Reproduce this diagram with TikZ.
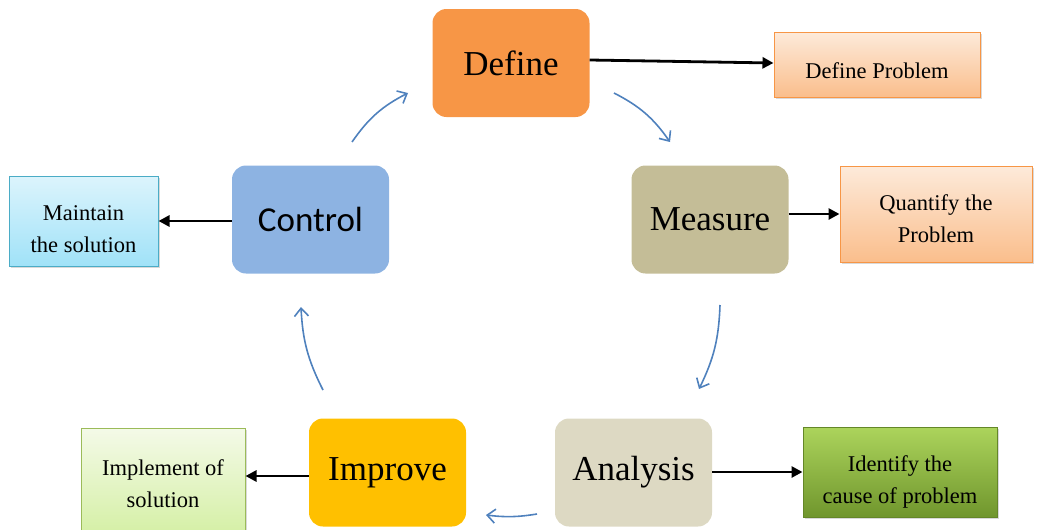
\documentclass[tikz,border=0pt]{standalone}
\usepackage{fontspec}
\setmainfont{Liberation Serif}
\newfontfamily\calib{Carlito}
\usetikzlibrary{arrows.meta,shadows}
\definecolor{defc}{RGB}{247,150,70}
\definecolor{meac}{RGB}{196,189,151}
\definecolor{anac}{RGB}{221,217,195}
\definecolor{impc}{RGB}{255,192,0}
\definecolor{conc}{RGB}{141,179,226}
\definecolor{blueline}{RGB}{79,129,189}
\definecolor{orbord}{RGB}{247,150,70}
\definecolor{ortop}{RGB}{253,234,218}
\definecolor{orbot}{RGB}{250,190,140}
\definecolor{cytop}{RGB}{220,244,252}
\definecolor{cybot}{RGB}{160,226,248}
\definecolor{cybord}{RGB}{75,172,198}
\definecolor{lgtop}{RGB}{244,250,232}
\definecolor{lgbot}{RGB}{214,240,168}
\definecolor{lgbord}{RGB}{155,187,89}
\definecolor{dgtop}{RGB}{172,212,92}
\definecolor{dgbot}{RGB}{112,150,45}
\definecolor{dgbord}{RGB}{100,135,40}
\tikzset{
  phase/.style={rounded corners=14pt, minimum width=157pt, minimum height=108pt,
    inner sep=0pt, font=\fontsize{35}{40}\selectfont},
  sidebox/.style={draw, line width=1pt, inner sep=0pt,
    drop shadow={shadow xshift=2pt, shadow yshift=-2pt, opacity=0.3}},
  sidetext/.style={inner sep=0pt, align=center, font=\fontsize{22.5}{32}\selectfont},
  blk/.style={line width=2.8pt, -{Triangle[length=11pt,width=11pt]}},
  cyc/.style={blueline, line width=1.6pt, -{Straight Barb[length=8pt,width=14pt]}}
}
\begin{document}
\begin{tikzpicture}[x=1pt,y=-1pt]
\useasboundingbox (0,0) rectangle (1045,530);
% phase boxes
\node[phase, fill=defc] (def) at (511,63) {Define};
\node[phase, fill=meac] (mea) at (710,219.5) {Measure};
\node[phase, fill=anac] (ana) at (633.5,472.5) {Analysis};
\node[phase, fill=impc] (imp) at (387.5,472.5) {Improve};
\node[phase, fill=conc, font=\calib\fontsize{35}{40}\selectfont] (con) at (310.5,219.5) {Control};
% side boxes
\node[sidebox, draw=orbord, top color=ortop, bottom color=orbot,
  minimum width=206pt, minimum height=65pt] (dp) at (877,64.5) {};
\node[sidetext] (dpt) at ([yshift=-6pt]dp.center) {Define Problem};
\node[sidebox, draw=orbord, top color=ortop, bottom color=orbot,
  minimum width=192pt, minimum height=96pt] (qp) at (936,214) {};
\node[sidetext] (qpt) at ([yshift=-5pt]qp.center) {Quantify the\\Problem};
\node[sidebox, draw=cybord, top color=cytop, bottom color=cybot,
  minimum width=149pt, minimum height=90pt] (ms) at (83.5,221) {};
\node[sidetext] (mst) at ([yshift=-8pt]ms.center) {Maintain\\the solution};
\node[sidebox, draw=lgbord, top color=lgtop, bottom color=lgbot,
  minimum width=164pt, minimum height=102pt] (is) at (163,479) {};
\node[sidetext] (ist) at ([yshift=-5pt]is.center) {Implement of\\solution};
\node[sidebox, draw=dgbord, top color=dgtop, bottom color=dgbot,
  minimum width=194pt, minimum height=90pt] (ic) at (900,472) {};
\node[sidetext] (ict) at ([yshift=-10pt]ic.center) {Identify the\\cause of problem};
% black arrows
\draw[blk] (def.east |- 0,60) -- (dp.west |- 0,63);
\draw[blk] (mea.east |- qp.west) -- (qp.west);
\draw[blk] (ana.east |- ic.west) -- (ic.west);
\draw[blk] (imp.west |- 0,476) -- (is.east |- 0,476);
\draw[blk] (con.west |- ms.east) -- (ms.east);
% cycle arrows
\coordinate (a1) at (614,93);  \coordinate (b1) at (670,142);
\coordinate (a2) at (720,305); \coordinate (b2) at (699,389);
\coordinate (a3) at (537,514); \coordinate (b3) at (486,515);
\coordinate (a4) at (323,390); \coordinate (b4) at (301,307);
\coordinate (a5) at (352,142); \coordinate (b5) at (408,93);
\draw[cyc] (a1) to[bend left=14] (b1);
\draw[cyc] (a2) to[bend left=12] (b2);
\draw[cyc] (a3) to[bend left=8] (b3);
\draw[cyc] (a4) to[bend left=12] (b4);
\draw[cyc] (a5) to[bend left=14] (b5);
\end{tikzpicture}
\end{document}
